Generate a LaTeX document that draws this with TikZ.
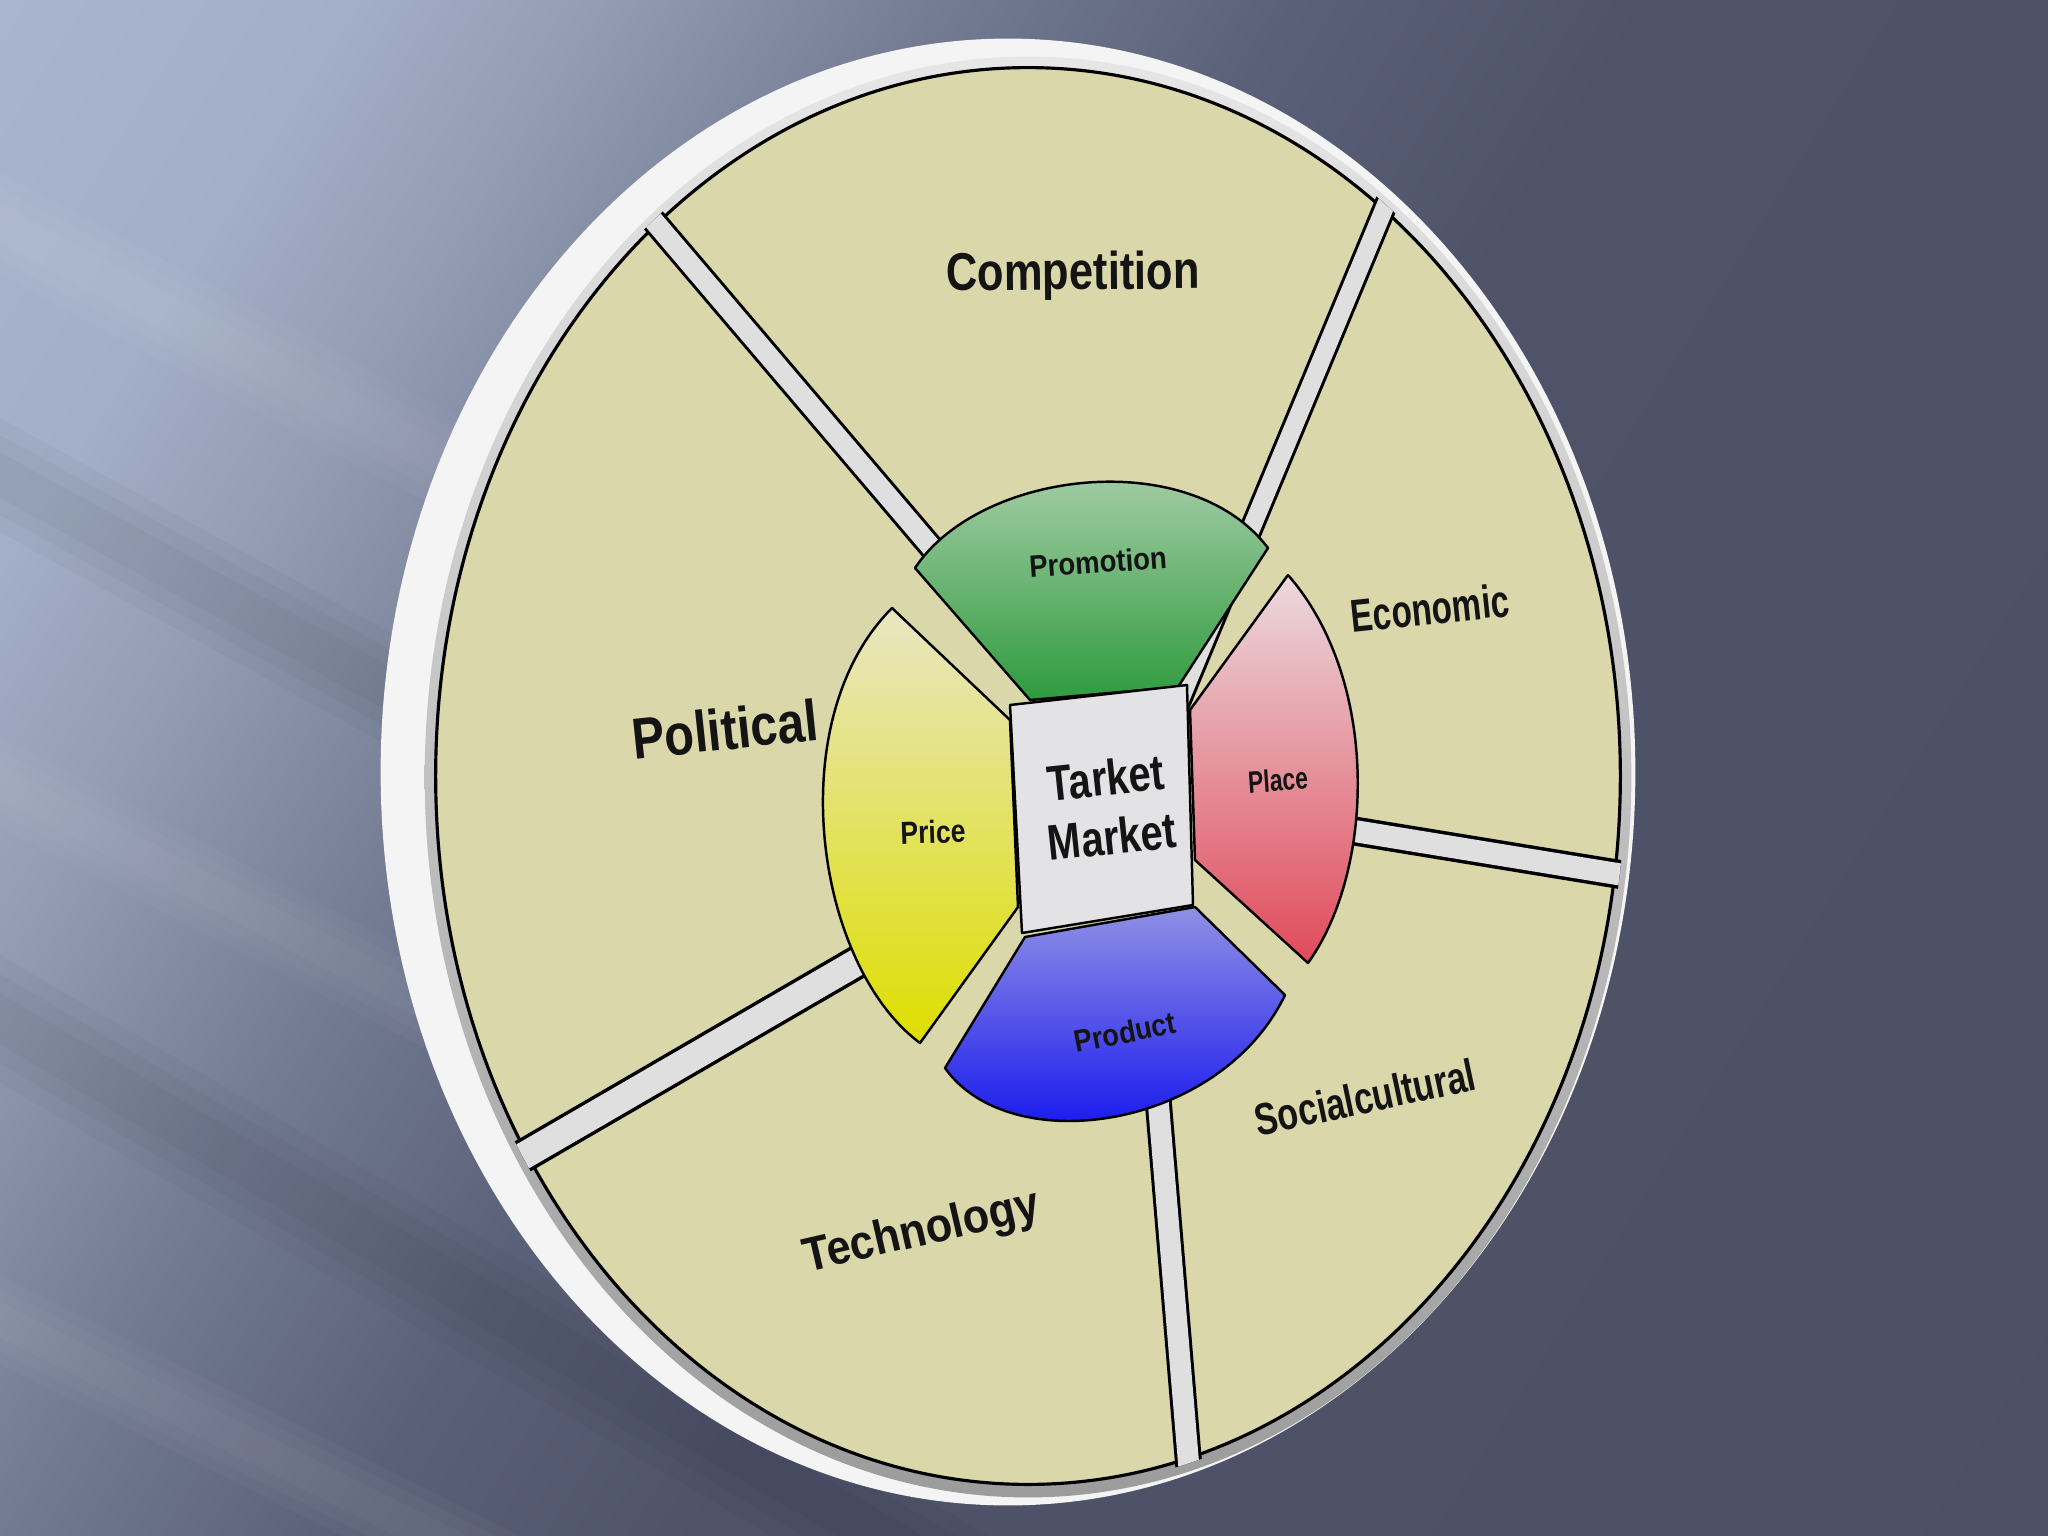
\documentclass[tikz,border=0pt]{standalone}
\usepackage{fontspec}
\setmainfont{Liberation Sans}
\definecolor{bg0}{HTML}{A9B5CD}
\definecolor{bg1}{HTML}{A3AFC7}
\definecolor{bg2}{HTML}{939DB4}
\definecolor{bg3}{HTML}{737C93}
\definecolor{bg4}{HTML}{5A6078}
\definecolor{bg5}{HTML}{4E5369}
\definecolor{bgE}{HTML}{4B5065}
\definecolor{rimW}{HTML}{F4F4F4}
\definecolor{rimT}{HTML}{E6E6E6}
\definecolor{rimB}{HTML}{9C9C9C}
\definecolor{faceC}{HTML}{DAD8AA}
\definecolor{spokeC}{HTML}{DFDFDF}
\definecolor{boxC}{HTML}{E3E3E6}
\definecolor{promT}{HTML}{B2D2B2}
\definecolor{promB}{HTML}{2E9B3E}
\definecolor{placeT}{HTML}{EBDADE}
\definecolor{placeB}{HTML}{E04A5A}
\definecolor{prodT}{HTML}{9090E6}
\definecolor{prodB}{HTML}{0808F0}
\definecolor{priceT}{HTML}{E8E6C4}
\definecolor{priceB}{HTML}{DEDE00}
\definecolor{ink}{HTML}{141414}
\pgfdeclarehorizontalshading{bgsh}{100bp}{color(0bp)=(bg0); color(25.9bp)=(bg0); color(31.5bp)=(bg1); color(35.2bp)=(bg2); color(40.7bp)=(bg3); color(46.3bp)=(bg4); color(51.9bp)=(bg5); color(75bp)=(bgE); color(100bp)=(bgE)}
\newcommand\mystreak[4]{%
  \foreach \f in {1,0.7,0.4}{\draw[#1, opacity=0.028, line width=\f*#4] #2 -- #3;}}
\tikzset{
  outl/.style={draw=black, line width=0.7pt, line join=round},
  biglab/.style={text=ink, font=\bfseries, inner sep=0pt, transform shape},
  smalllab/.style={text=ink, inner sep=0pt, transform shape},
}
\begin{document}
\begin{tikzpicture}[x=0.01cm, y=-0.01cm]
\useasboundingbox (0,0) rectangle (2048,1536);
% background
\fill[bgE] (0,0) rectangle (2048,1536);
\begin{scope}[transform canvas={rotate around={-32:(0,0)}}]
\shade[shading=bgsh] (-50,-1150) rectangle (2650,1350);
\end{scope}
\begin{scope}
\clip (0,0) rectangle (2048,1536);
\mystreak{white}{(-100,170)}{(1000,757)}{0.9cm}
\mystreak{black}{(-100,420)}{(1000,1025)}{1.0cm}
\mystreak{white}{(-100,730)}{(900,1250)}{0.8cm}
\mystreak{black}{(-100,960)}{(1100,1665)}{1.1cm}
\mystreak{white}{(-100,1270)}{(560,1600)}{0.8cm}
\end{scope}
% disc rim
\fill[rimW] (1008,772) ellipse [x radius=6.27cm, y radius=7.33cm];
\shade[top color=rimT, bottom color=rimB] (1028,777) ellipse [x radius=6.03cm, y radius=7.20cm];
% face
\fill[faceC] (1028,776) ellipse [x radius=5.92cm, y radius=7.08cm];
\draw[line width=0.9pt] (1028,776) ellipse [x radius=5.92cm, y radius=7.08cm];
% spokes
\coordinate (s1i) at (960,581);  \coordinate (s1o) at (636,200);
\coordinate (s2i) at (1175,712); \coordinate (s2o) at (1392,190);
\coordinate (s3i) at (1330,827); \coordinate (s3o) at (1660,881);
\coordinate (s4i) at (1156,1075);\coordinate (s4o) at (1195,1540);
\coordinate (s5i) at (885,946);  \coordinate (s5o) at (420,1216);
\begin{scope}
\clip (1028,776) ellipse [x radius=5.97cm, y radius=7.13cm];
\draw[black, line width=0.26cm] (s1i) -- (s1o);
\draw[spokeC, line width=0.20cm] (s1i) -- (s1o);
\draw[black, line width=0.24cm] (s2i) -- (s2o);
\draw[spokeC, line width=0.18cm] (s2i) -- (s2o);
\draw[black, line width=0.29cm] (s3i) -- (s3o);
\draw[spokeC, line width=0.22cm] (s3i) -- (s3o);
\draw[black, line width=0.27cm] (s4i) -- (s4o);
\draw[spokeC, line width=0.21cm] (s4i) -- (s4o);
\draw[black, line width=0.34cm] (s5i) -- (s5o);
\draw[spokeC, line width=0.27cm] (s5i) -- (s5o);
\end{scope}
% inner sectors
\shade[top color=promT, bottom color=promB, outl]
  (915,568) .. controls (980,470) and (1190,445) .. (1268,548) -- (1178,687) -- (1030,700) -- cycle;
\shade[top color=placeT, bottom color=placeB, outl]
  (1288,575) -- (1190,710) -- (1195,860) -- (1308,963) .. controls (1375,870) and (1380,680) .. (1288,575) -- cycle;
\shade[top color=prodT, bottom color=prodB, outl]
  (1025,937) -- (1195,907) -- (1285,995) .. controls (1220,1130) and (1010,1160) .. (945,1068) -- cycle;
\shade[top color=priceT, bottom color=priceB, outl]
  (892,608) -- (1010,720) -- (1018,907) -- (920,1043) .. controls (815,965) and (780,720) .. (892,608) -- cycle;
% centre box
\fill[boxC, outl] (1010,705) -- (1187,685) -- (1193,905) -- (1022,933) -- cycle;
% labels
\node[biglab, rotate=6, xscale=0.8, font=\bfseries\fontsize{14.2}{16.8}\selectfont, align=center] (tm) at (1109,807) {Tarket\\Market};
\node[smalllab, rotate=4, xscale=0.89, font=\bfseries\fontsize{8.8}{10}\selectfont] (prom) at (1098,562) {Promotion};
\node[smalllab, rotate=4, xscale=0.74, font=\bfseries\fontsize{8.8}{10}\selectfont] (plc) at (1278,780) {Place};
\node[smalllab, rotate=2, xscale=0.83, font=\bfseries\fontsize{9.1}{10}\selectfont] (prc) at (933,832) {Price};
\node[smalllab, rotate=11, xscale=0.88, font=\bfseries\fontsize{8.8}{10}\selectfont] (prd) at (1125,1032) {Product};
\node[biglab, rotate=0.5, xscale=0.82, font=\bfseries\fontsize{15.1}{17}\selectfont] (comp) at (1073,276) {Competition};
\node[biglab, rotate=6, xscale=0.84, font=\bfseries\fontsize{16.5}{18}\selectfont] (pol) at (725,729) {Political};
\node[biglab, rotate=6, xscale=0.72, font=\bfseries\fontsize{13.1}{15}\selectfont] (eco) at (1430,608) {Economic};
\node[biglab, rotate=12, xscale=0.76, font=\bfseries\fontsize{12.8}{15}\selectfont] (soc) at (1365,1097) {Socialcultural};
\node[biglab, rotate=13, xscale=0.9, font=\bfseries\fontsize{13.7}{15}\selectfont] (tech) at (922,1233) {Technology};
\end{tikzpicture}
\end{document}
